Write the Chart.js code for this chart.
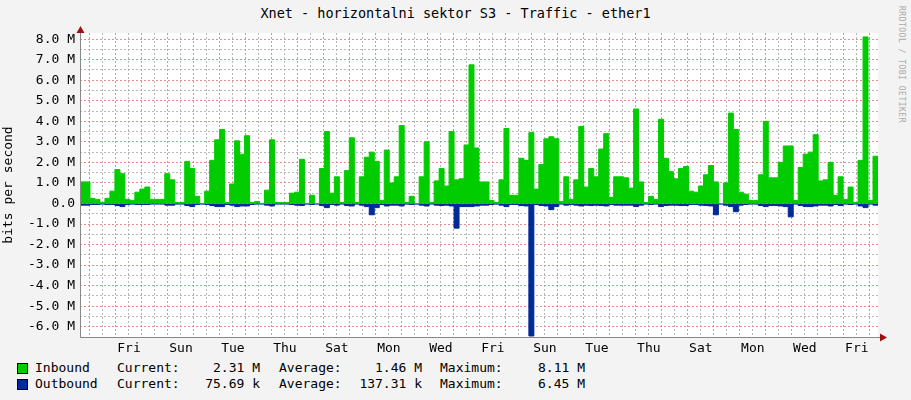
<!DOCTYPE html>
<html lang="en">
<head>
<meta charset="UTF-8">
<title>Xnet - ether1</title>
<script src="https://cdn.jsdelivr.net/npm/chart.js"></script>
<style>
  body { margin: 0; background: #f3f3f3; width: 911px; height: 400px; overflow: hidden; position: relative; font-family: "DejaVu Sans Mono", monospace; }
  #wrap { position: absolute; left: 0; top: 0; width: 911px; height: 360px; }
  #title { position: absolute; top: 5px; width: 911px; text-align: center; font-size: 13.5px; color: #000; }
  #side { position: absolute; left: 897px; top: 6px; writing-mode: vertical-rl; font-size: 8px; color: #aaa; letter-spacing: 0.5px; }
  .t { position: absolute; font-size: 13px; white-space: pre; color: #000; line-height: 15px; }
  .sq { position: absolute; left: 17px; width: 9px; height: 9px; border: 1px solid #000; }
</style>
</head>
<body>
<div id="title">Xnet - horizontalni sektor S3 - Traffic - ether1</div>
<div id="side">RRDTOOL / TOBI OETIKER</div>
<div id="wrap"><canvas id="c"></canvas></div>
<div id="legend"></div>
<script>
// time axis: hours since Thursday 00:00, one sample every ~4.6 h
const startHour = -9.23;
const stepHours = 4.605;
const dayNames = ['Sun', 'Mon', 'Tue', 'Wed', 'Thu', 'Fri', 'Sat'];

// inbound traffic, M bits/s
const inbound = [
  1.05, 0.25, 0.2, 0.05, 0.25, 0.6, 1.65, 1.45, 0.2, 0.15,
  0.55, 0.7, 0.8, 0.2, 0.2, 0.2, 1.45, 1.15, 0.05, 0.05,
  2.05, 1.7, 0.35, 0, 0.6, 2.1, 3.1, 3.6, 0.05, 0.95,
  3.05, 2.4, 3.3, 0.05, 0.1, 0, 0.65, 3.1, 0.05, 0.05,
  0.05, 0.5, 0.55, 2.15, 0, 0.4, 0, 1.7, 3.5, 0.5,
  1.3, 0.05, 1.6, 3.2, 0.05, 1.3, 2.25, 2.5, 2.05, 0.15,
  2.6, 1.0, 1.3, 3.8, 0.05, 0.35, 0, 1.3, 3.0, 0.05,
  1.1, 1.7, 0.85, 3.5, 1.15, 1.2, 2.85, 6.75, 2.7, 1.05,
  1.05, 0.15, 0.05, 1.15, 3.65, 0.4, 0.4, 2.2, 2.1, 3.45,
  0.7, 1.9, 3.15, 3.25, 3.15, 0.1, 1.3, 0.2, 1.15, 3.75,
  0.8, 1.7, 1.3, 2.65, 3.4, 0.3, 1.3, 1.3, 1.25, 0.75,
  4.6, 1.05, 0.05, 0.35, 0.2, 4.1, 2.2, 1.55, 1.2, 1.7,
  1.8, 0.6, 0.55, 0.85, 1.4, 1.85, 1.05, 0, 1.0, 4.4,
  3.6, 0.55, 0.45, 0.15, 0.15, 1.4, 4.0, 1.25, 1.25, 2.0,
  2.8, 2.8, 0.15, 1.75, 2.4, 2.5, 3.35, 1.1, 1.15, 2.0,
  0.4, 1.3, 0.2, 0.8, 0.05, 2.1, 8.11, 0.15, 2.3, 2.3
];

// outbound traffic, M bits/s (drawn below zero)
const outbound = [
  0.08, 0.05, 0.05, 0.03, 0.05, 0.05, 0.1, 0.15, 0.05, 0.03,
  0.05, 0.05, 0.05, 0.03, 0.03, 0.03, 0.08, 0.08, 0.03, 0.03,
  0.1, 0.15, 0.05, 0.03, 0.05, 0.1, 0.15, 0.15, 0.05, 0.08,
  0.15, 0.12, 0.12, 0.05, 0.03, 0.03, 0.08, 0.12, 0.03, 0.03,
  0.03, 0.05, 0.08, 0.1, 0.03, 0.05, 0.03, 0.1, 0.2, 0.05,
  0.08, 0.03, 0.1, 0.12, 0.03, 0.08, 0.15, 0.55, 0.2, 0.05,
  0.12, 0.08, 0.08, 0.12, 0.03, 0.05, 0.03, 0.08, 0.12, 0.03,
  0.08, 0.1, 0.08, 0.12, 1.2, 0.15, 0.15, 0.15, 0.12, 0.08,
  0.08, 0.05, 0.03, 0.08, 0.15, 0.05, 0.05, 0.1, 0.12, 6.45,
  0.05, 0.1, 0.12, 0.3, 0.15, 0.03, 0.08, 0.05, 0.08, 0.12,
  0.08, 0.1, 0.08, 0.1, 0.12, 0.05, 0.08, 0.08, 0.08, 0.08,
  0.15, 0.08, 0.03, 0.05, 0.03, 0.15, 0.1, 0.08, 0.08, 0.1,
  0.1, 0.05, 0.05, 0.08, 0.1, 0.12, 0.55, 0.03, 0.08, 0.15,
  0.4, 0.08, 0.05, 0.03, 0.03, 0.1, 0.15, 0.1, 0.1, 0.12,
  0.15, 0.65, 0.03, 0.1, 0.15, 0.15, 0.12, 0.08, 0.08, 0.12,
  0.05, 0.1, 0.03, 0.05, 0.03, 0.12, 0.2, 0.03, 0.08, 0.08
];

// legend rows: name, colour, current, average, maximum
const legendRows = [
  ['Inbound', '#00cc00', '2.31 M', '1.46 M', '8.11 M'],
  ['Outbound', '#002a97', '75.69 k', '137.31 k', '6.45 M']
];

const legend = document.getElementById('legend');
legendRows.forEach((row, i) => {
  const top = 360 + i * 16;
  const put = (txt, css) => {
    const d = document.createElement('div');
    d.className = 't'; d.textContent = txt; d.style.cssText += css + ';top:' + top + 'px';
    legend.appendChild(d);
  };
  const sq = document.createElement('div');
  sq.className = 'sq'; sq.style.background = row[1]; sq.style.top = (top + 3) + 'px';
  legend.appendChild(sq);
  put(row[0], 'left:35px');
  put('Current:', 'left:117px');
  put(row[2], 'right:' + (911 - 260) + 'px');
  put('Average:', 'left:279px');
  put(row[3], 'right:' + (911 - 422) + 'px');
  put('Maximum:', 'left:440px');
  put(row[4], 'right:' + (911 - 585) + 'px');
});

const endHour = startHour + inbound.length * stepHours;
// each sample holds its value until the next one
const toPoints = (arr, sign) => {
  const pts = arr.map((v, i) => ({ x: startHour + (i + 1) * stepHours, y: sign * v }));
  pts.unshift({ x: startHour, y: sign * arr[0] });
  return pts;
};

const frame = {
  id: 'frame',
  beforeDraw(chart) {
    const { ctx, chartArea: a } = chart;
    ctx.save(); ctx.fillStyle = '#fff';
    ctx.fillRect(a.left, a.top, a.right - a.left, a.bottom - a.top);
    ctx.restore();
  },
  afterDraw(chart) {
    const { ctx, chartArea: a } = chart;
    ctx.save();
    ctx.strokeStyle = '#888'; ctx.lineWidth = 1;
    ctx.beginPath();
    ctx.moveTo(a.left + 0.5, a.top - 4); ctx.lineTo(a.left + 0.5, a.bottom + 0.5); ctx.lineTo(a.right + 4, a.bottom + 0.5);
    ctx.stroke();
    ctx.fillStyle = '#a01010';
    ctx.beginPath();
    ctx.moveTo(a.left - 3.5, a.top); ctx.lineTo(a.left + 4.5, a.top); ctx.lineTo(a.left + 0.5, a.top - 7); ctx.fill();
    ctx.beginPath();
    ctx.moveTo(a.right + 2, a.bottom - 3.5); ctx.lineTo(a.right + 2, a.bottom + 4.5); ctx.lineTo(a.right + 9, a.bottom + 0.5); ctx.fill();
    ctx.restore();
  }
};

const isInt = v => Math.abs(v - Math.round(v)) < 1e-6;
const fnt = { family: 'DejaVu Sans Mono', size: 13 };
const majorCol = 'rgba(232,120,120,0.85)';
const minorCol = 'rgba(170,170,170,0.85)';

new Chart(document.getElementById('c'), {
  type: 'line',
  data: {
    datasets: [
      { label: 'Inbound', data: toPoints(inbound, 1), stepped: 'before', fill: 'origin',
        backgroundColor: '#00cc00', borderColor: '#00cc00', borderWidth: 1, pointRadius: 0 },
      { label: 'Outbound', data: toPoints(outbound, -1), stepped: 'before', fill: 'origin',
        backgroundColor: '#002a97', borderColor: '#002a97', borderWidth: 1, pointRadius: 0 }
    ]
  },
  options: {
    responsive: true, maintainAspectRatio: false, animation: false,
    layout: { padding: { top: 33, right: 33, left: 0, bottom: 0 } },
    plugins: { legend: { display: false }, tooltip: { enabled: false } },
    scales: {
      x: {
        type: 'linear', min: startHour, max: endHour,
        afterBuildTicks: s => {
          const t = [];
          for (let h = Math.ceil(startHour / 12) * 12; h <= endHour; h += 12) t.push({ value: h });
          s.ticks = t;
        },
        afterFit: s => { s.height = 23; },
        grid: {
          color: c => (c.tick && c.tick.value % 24 === 0) ? majorCol : minorCol,
          drawTicks: false
        },
        border: { display: false, dash: [2, 2] },
        ticks: {
          autoSkip: false, maxRotation: 0, padding: 4, color: '#000', font: fnt,
          callback: v => (((v % 48) + 48) % 48 === 36) ? dayNames[(Math.floor(v / 24) + 4) % 7] : ''
        }
      },
      y: {
        min: -6.5, max: 8.3,
        afterBuildTicks: s => {
          const t = [];
          for (let v = -6.5; v <= 8.3; v += 0.5) t.push({ value: Math.round(v * 10) / 10 });
          s.ticks = t;
        },
        afterFit: s => { s.width = 80; },
        grid: {
          color: c => (c.tick && isInt(c.tick.value)) ? majorCol : minorCol,
          drawTicks: false
        },
        border: { display: false, dash: [2, 2] },
        title: { display: true, text: 'bits per second', color: '#000', font: fnt, padding: 1 },
        ticks: {
          autoSkip: false, padding: 5, color: '#000', font: fnt,
          callback: v => !isInt(v) ? '' : (v === 0 ? '0.0' : v.toFixed(1) + ' M')
        }
      }
    }
  },
  plugins: [frame]
});
</script>
</body>
</html>
